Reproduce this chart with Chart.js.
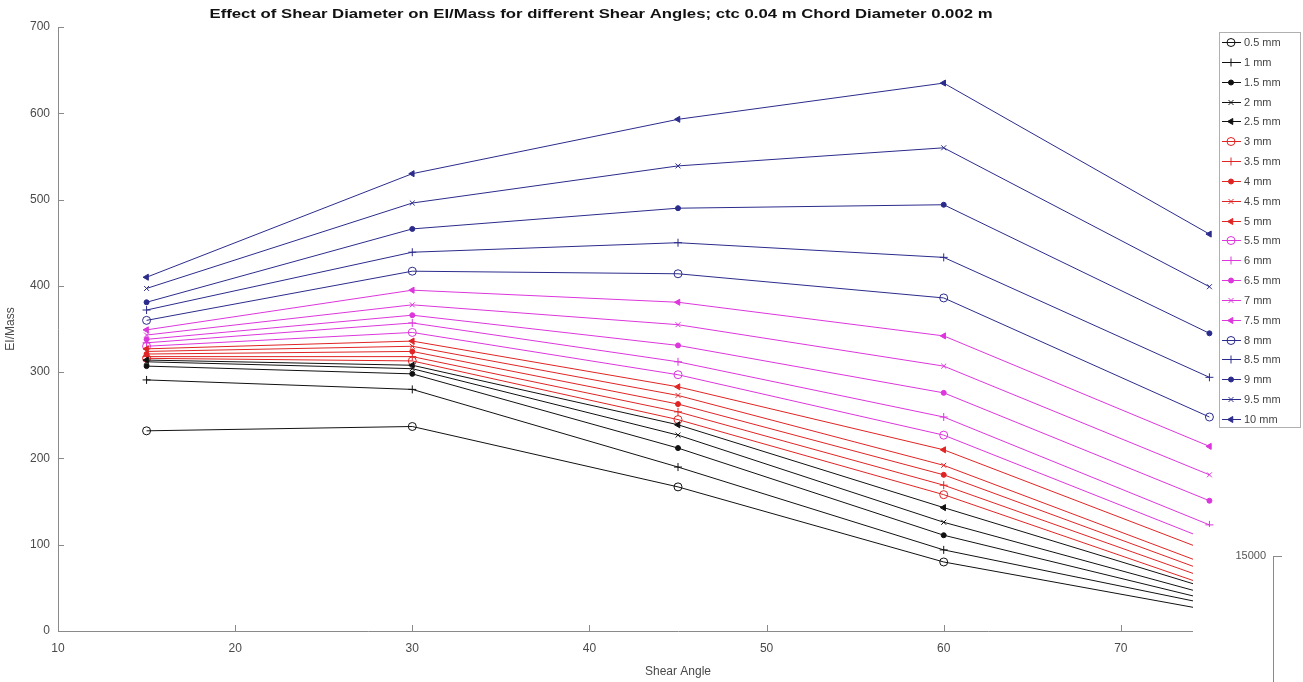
<!DOCTYPE html>
<html>
<head>
<meta charset="utf-8">
<script src="https://cdn.jsdelivr.net/npm/chart.js@4.4.1/dist/chart.umd.min.js"></script>
<style>
  body { margin: 0; background: #fff; }
  #wrap { position: relative; width: 1303px; height: 682px; }
</style>
</head>
<body>
<div id="wrap"><canvas id="Chart" width="1303" height="682"></canvas></div>
<script>
// shear angle on x
const angles = [15, 30, 45, 60, 75];
const diamLabels = ["0.5 mm","1 mm","1.5 mm","2 mm","2.5 mm","3 mm","3.5 mm","4 mm","4.5 mm","5 mm",
                    "5.5 mm","6 mm","6.5 mm","7 mm","7.5 mm","8 mm","8.5 mm","9 mm","9.5 mm","10 mm"];
// EI/Mass per shear diameter
const d05 = [232, 237, 167, 80, 24];
const d10 = [291, 280, 190, 94, 31];
const d15 = [307, 298, 212, 111, 36];
const d20 = [312, 304, 227, 126, 42];
const d25 = [314, 308, 239, 143, 49];
const d30 = [316, 313, 245, 158, 52];
const d35 = [318, 318, 254, 169, 60];
const d40 = [321, 324, 263, 181, 68];
const d45 = [324, 330, 273, 192, 76];
const d50 = [327, 336, 283, 210, 92];
const d55 = [330, 346, 297, 227, 105];
const d60 = [334, 357, 312, 248, 123];
const d65 = [338, 366, 331, 276, 151];
const d70 = [343, 378, 355, 307, 181];
const d75 = [349, 395, 381, 342, 214];
const d80 = [360, 417, 414, 386, 248];
const d85 = [372, 439, 450, 433, 294];
const d90 = [381, 466, 490, 494, 345];
const d95 = [397, 496, 539, 560, 399];
const d100 = [410, 530, 593, 635, 460];
const series = [d05,d10,d15,d20,d25,d30,d35,d40,d45,d50,d55,d60,d65,d70,d75,d80,d85,d90,d95,d100];
const yTicks = [0, 100, 200, 300, 400, 500, 600, 700];
const xTicks = [10, 20, 30, 40, 50, 60, 70];
const titleText = "Effect of Shear Diameter on EI/Mass for different Shear Angles; ctc 0.04 m Chord Diameter 0.002 m";

const groupColors = ["#111111", "#e02424", "#dc36dc", "#2b2b8c"];
const markers = [
    {style: "circle", r: 4, fill: false, rot: 0},
    {style: "cross", r: 4, fill: false, rot: 0},
    {style: "circle", r: 2.5, fill: true, rot: 0},
    {style: "crossRot", r: 3.5, fill: false, rot: 0},
    {style: "triangle", r: 3.5, fill: true, rot: -90}
];

function makeDatasets()
{
    let out = [];
    for (let i = 0; i < series.length; i++)
    {
        let c = groupColors[Math.floor(i / 5)];
        let m = markers[i % 5];
        out.push({
            label: diamLabels[i],
            data: series[i].map((v, k) => ({x: angles[k], y: v})),
            borderColor: c,
            backgroundColor: c,
            borderWidth: 1,
            pointStyle: m.style,
            pointRadius: m.r,
            pointRotation: m.rot,
            pointBorderWidth: 1,
            pointBackgroundColor: m.fill ? c : "rgba(0,0,0,0)",
            pointBorderColor: c,
            tension: 0
        });
    }
    return out;
}

// title, inward ticks, legend box and the clipped corner of the other figure
const extras = {
    id: "extras",
    afterDraw(chart) {
        const ctx = chart.ctx;
        const xs = chart.scales.x, ys = chart.scales.y;
        const area = chart.chartArea;
        ctx.save();
        // inward ticks
        ctx.strokeStyle = "#8a8a8a";
        ctx.lineWidth = 1;
        ctx.beginPath();
        xTicks.forEach(t => {
            let px = Math.round(xs.getPixelForValue(t)) + 0.5;
            ctx.moveTo(px, area.bottom); ctx.lineTo(px, area.bottom - 6);
        });
        yTicks.forEach(t => {
            let py = Math.round(ys.getPixelForValue(t)) + 0.5;
            ctx.moveTo(area.left, py); ctx.lineTo(area.left + 6, py);
        });
        ctx.stroke();

        // title, stretched a bit wide like the picture
        ctx.fillStyle = "#111";
        ctx.font = "bold 13px 'Liberation Sans', Arial, sans-serif";
        ctx.textAlign = "center";
        ctx.textBaseline = "middle";
        let tw = ctx.measureText(titleText).width;
        ctx.save();
        ctx.translate(601, 14);
        ctx.scale(783 / tw, 1);
        ctx.fillText(titleText, 0, 0);
        ctx.restore();

        // legend
        let lx = 1219, ly = 32, lw = 81, lh = 395;
        ctx.fillStyle = "#fff";
        ctx.fillRect(lx, ly, lw, lh);
        ctx.strokeStyle = "#b0b0b0";
        ctx.strokeRect(lx + 0.5, ly + 0.5, lw, lh);
        ctx.font = "11px 'Liberation Sans', Arial, sans-serif";
        ctx.textAlign = "left";
        chart.data.datasets.forEach((ds, i) => {
            let y = Math.round(42 + i * 19.84) + 0.5;
            ctx.strokeStyle = ds.borderColor;
            ctx.beginPath();
            ctx.moveTo(lx + 3, y); ctx.lineTo(lx + 22, y);
            ctx.stroke();
            ctx.fillStyle = ds.pointBackgroundColor;
            ctx.strokeStyle = ds.pointBorderColor;
            Chart.helpers.drawPoint(ctx, {pointStyle: ds.pointStyle, radius: ds.pointRadius,
                rotation: ds.pointRotation, borderWidth: 1}, lx + 12, y);
            ctx.fillStyle = "#444";
            ctx.fillText(ds.label, lx + 25, y);
        });

        // white corner with the other axis peeking in
        ctx.fillStyle = "#fff";
        ctx.fillRect(1193, 527, 110, 155);
        ctx.strokeStyle = "#8a8a8a";
        ctx.beginPath();
        ctx.moveTo(1273.5, 556); ctx.lineTo(1273.5, 682);
        ctx.moveTo(1273, 556.5); ctx.lineTo(1282, 556.5);
        ctx.stroke();
        ctx.fillStyle = "#555";
        ctx.textAlign = "right";
        ctx.fillText("15000", 1266, 556);
        ctx.restore();
    }
};

var myChart;
function init_chart()
{
    const ctx = document.getElementById("Chart");
    myChart = new Chart(ctx, {
        type: "line",
        data: { datasets: makeDatasets() },
        options: {
            responsive: false,
            animation: false,
            layout: { padding: { top: 27, right: 0, left: 0, bottom: 0 } },
            plugins: { legend: { display: false }, tooltip: { enabled: false } },
            scales: {
                x: {
                    type: "linear",
                    min: 10, max: 80,
                    afterFit: s => { s.height = 51; s.paddingRight = 0; },
                    afterBuildTicks: s => { s.ticks = xTicks.map(v => ({value: v})); },
                    grid: { display: true, drawOnChartArea: false, drawTicks: false },
                    border: { color: "#8a8a8a", width: 1 },
                    ticks: { color: "#4a4a4a", padding: 10, font: { size: 12, family: "'Liberation Sans', Arial" } },
                    title: { display: true, text: "Shear Angle", color: "#4a4a4a",
                             font: { size: 12, family: "'Liberation Sans', Arial" }, padding: { top: 4, bottom: 3 } }
                },
                y: {
                    min: 0, max: 700,
                    afterFit: s => { s.width = 58; },
                    afterBuildTicks: s => { s.ticks = yTicks.map(v => ({value: v})); },
                    grid: { display: true, drawOnChartArea: false, drawTicks: false },
                    border: { color: "#8a8a8a", width: 1 },
                    ticks: { color: "#4a4a4a", padding: 8, font: { size: 12, family: "'Liberation Sans', Arial" } },
                    title: { display: true, text: "EI/Mass", color: "#4a4a4a",
                             font: { size: 12, family: "'Liberation Sans', Arial" }, padding: { top: 3, bottom: 4 } }
                }
            }
        },
        plugins: [extras]
    });
}
init_chart();
</script>
</body>
</html>
